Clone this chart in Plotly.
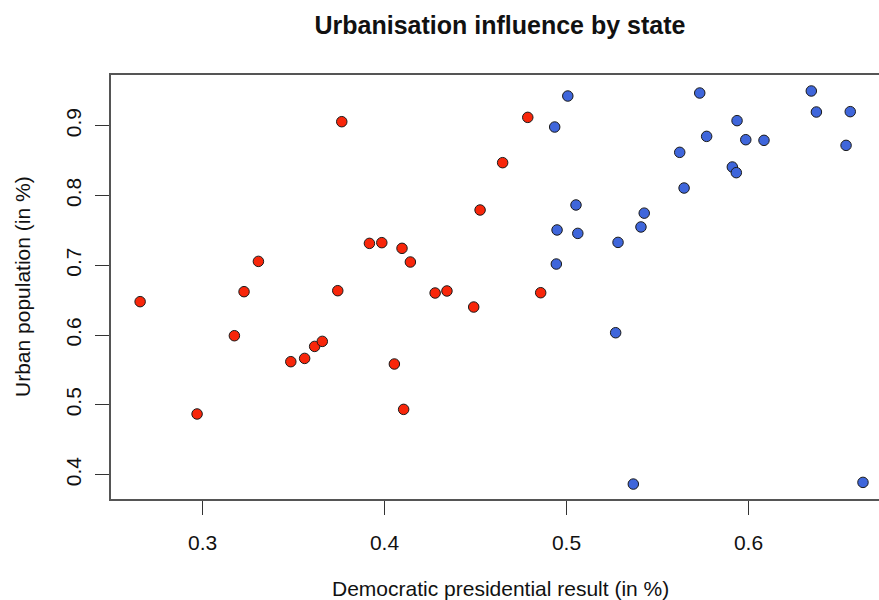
import plotly.graph_objects as go

# Republican-won states (red)
red_dem = [0.2657, 0.2970, 0.3175, 0.3228, 0.3307, 0.3485, 0.3561, 0.3616, 0.3658, 0.3743,
           0.3765, 0.3917, 0.3985, 0.4054, 0.4096, 0.4105, 0.4142, 0.4278, 0.4343, 0.4490,
           0.4525, 0.4649, 0.4787, 0.4858]
red_urban = [0.6479, 0.4870, 0.5991, 0.6622, 0.7056, 0.5619, 0.5666, 0.5838, 0.5910, 0.6636,
             0.9057, 0.7314, 0.7324, 0.5586, 0.7243, 0.4936, 0.7047, 0.6603, 0.6632, 0.6402,
             0.7792, 0.8470, 0.9119, 0.6607]

# Democratic-won states (blue)
blue_dem = [0.4935, 0.4944, 0.4948, 0.5007, 0.5052, 0.5062, 0.5270, 0.5283, 0.5367, 0.5409,
            0.5427, 0.5622, 0.5646, 0.5732, 0.5770, 0.5911, 0.5933, 0.5937, 0.5985, 0.6085,
            0.6345, 0.6373, 0.6536, 0.6559, 0.6629]
blue_urban = [0.8981, 0.7018, 0.7506, 0.9425, 0.7864, 0.7457, 0.6034, 0.7328, 0.3866, 0.7549,
              0.7747, 0.8618, 0.8107, 0.9468, 0.8847, 0.8408, 0.8327, 0.9072, 0.8799, 0.8790,
              0.9497, 0.9196, 0.8718, 0.9201, 0.3890]

x_ticks = [0.3, 0.4, 0.5, 0.6]
y_ticks = [0.4, 0.5, 0.6, 0.7, 0.8, 0.9]

FONT = "Liberation Sans, Arial, Helvetica, sans-serif"

fig = go.Figure()
fig.add_trace(go.Scatter(x=red_dem, y=red_urban, mode="markers",
                         marker=dict(size=10.5, color="#F8260A",
                                     line=dict(color="#1a1a1a", width=1)),
                         showlegend=False, hoverinfo="x+y"))
fig.add_trace(go.Scatter(x=blue_dem, y=blue_urban, mode="markers",
                         marker=dict(size=10.5, color="#3F66DB",
                                     line=dict(color="#1a1a1a", width=1)),
                         showlegend=False, hoverinfo="x+y"))

fig.update_layout(
    width=879, height=600,
    margin=dict(l=111, r=0, t=75, b=101),
    paper_bgcolor="white", plot_bgcolor="white",
    font=dict(family=FONT, size=21, color="#111"),
    title=dict(text="<b>Urbanisation influence by state</b>",
               x=500 / 879, xref="container", xanchor="center",
               y=1 - 25 / 600, yref="container", yanchor="middle",
               font=dict(family=FONT, size=25, color="#111")),
    xaxis=dict(range=[0.2497, 0.6717], tickvals=x_ticks,
               ticktext=[str(v) for v in x_ticks],
               showgrid=False, zeroline=False,
               showline=True, linecolor="#555", linewidth=1.5, mirror=True,
               ticks="outside", ticklen=14, tickcolor="#333", tickwidth=1.2,
               ticklabelstandoff=10),
    yaxis=dict(range=[0.3652, 0.9726], tickvals=y_ticks,
               ticktext=[str(v) for v in y_ticks],
               showgrid=False, zeroline=False,
               showline=True, linecolor="#555", linewidth=1.5,
               ticks="outside", ticklen=14, tickcolor="#333", tickwidth=1.2,
               tickangle=-90, ticklabelstandoff=6),
    annotations=[
        dict(text="Democratic presidential result (in %)", xref="paper", yref="paper",
             x=(500 - 111) / 768, y=(499 - 588) / 424, xanchor="center", yanchor="middle",
             showarrow=False, font=dict(family=FONT, size=21, color="#111")),
        dict(text="Urban population (in %)", xref="paper", yref="paper",
             x=(22 - 111) / 768, y=0.5, xanchor="center", yanchor="middle",
             textangle=-90, showarrow=False, font=dict(family=FONT, size=21, color="#111")),
    ],
)

fig.write_html("out.html",
               config={"displayModeBar": False},
               post_script="document.body.style.margin='0px';document.body.style.overflow='hidden';")
